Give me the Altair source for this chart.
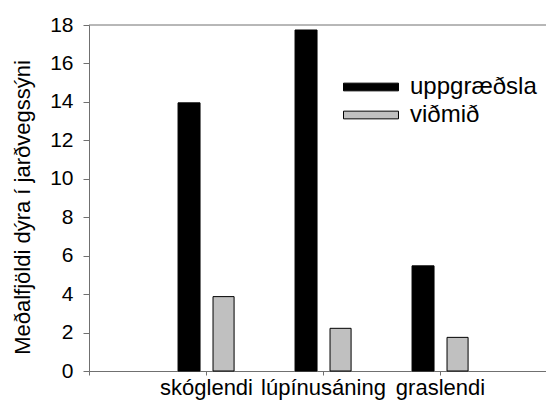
import json
import altair as alt
import pandas as pd

categories = ["skóglendi", "lúpínusáning", "graslendi"]
series_names = ["uppgræðsla", "viðmið"]
uppgraedsla = [13.95, 17.74, 5.47]
vidmid = [3.87, 2.22, 1.75]
y_ticks = list(range(0, 19, 2))

rows = []
for i, c in enumerate(categories):
    rows.append({"cat": c, "idx": i + 1, "series": series_names[0], "value": uppgraedsla[i]})
    rows.append({"cat": c, "idx": i + 1, "series": series_names[1], "value": vidmid[i]})
df = pd.DataFrame(rows)

W, H = 457, 346
step = 117.0
xmax = W / step
axis_col = "#707070"
label_arr = json.dumps([""] + categories, ensure_ascii=False)

x_scale = alt.Scale(domain=[0, xmax], nice=False, zero=False)
y_scale = alt.Scale(domain=[0, 18], nice=False)

x_axis = alt.Axis(values=[0, 1, 2, 3], labelExpr=f"{label_arr}[datum.value]",
                  title=None, grid=False, tickSize=4, labelPadding=2,
                  labelFontSize=22, domainColor=axis_col, tickColor=axis_col,
                  labelColor="black", labelFlush=False, labelOverlap=False)
y_axis = alt.Axis(values=y_ticks, title="Meðalfjöldi dýra í jarðvegssýni",
                  grid=False, tickSize=6, labelPadding=10, labelFontSize=21,
                  labelOverlap=False, labelFlush=False,
                  titleFontSize=22, titleFontWeight="normal", titlePadding=15,
                  titleY=182, domainColor=axis_col, tickColor=axis_col,
                  labelColor="black", titleColor="black")

base = alt.Chart(df).transform_calculate(
    lo=f"datum.idx + (datum.series == '{series_names[0]}' ? -0.239 : 0.06)"
).transform_calculate(
    hi="datum.lo + (datum.series == '" + series_names[0] + "' ? 0.188 : 0.18)"
)

bars = base.mark_bar(stroke="black", strokeWidth=1).encode(
    x=alt.X("lo:Q", scale=x_scale, axis=x_axis),
    x2="hi:Q",
    y=alt.Y("value:Q", scale=y_scale, axis=y_axis),
    y2=alt.datum(0),
    color=alt.Color("series:N",
                    scale=alt.Scale(domain=series_names, range=["#000000", "#c0c0c0"]),
                    legend=alt.Legend(title=None, orient="none", legendX=270, legendY=50,
                                      symbolType="M-3,-0.42H3V0.42H-3Z", symbolSize=336,
                                      symbolStrokeColor="black", symbolStrokeWidth=1,
                                      labelFontSize=24, labelOffset=27, rowPadding=4,
                                      labelColor="black")),
)

top_line = alt.Chart(pd.DataFrame({"t": [18]})).mark_rule(color=axis_col, strokeWidth=1).encode(
    x=alt.datum(0, scale=x_scale, axis=x_axis),
    x2=alt.datum(xmax),
    y=alt.datum(18, scale=y_scale, axis=y_axis),
)

chart = alt.layer(bars, top_line).properties(
    width=W, height=H,
    autosize=alt.AutoSizeParams(type="none"),
    padding={"left": 81, "top": 17, "right": 0, "bottom": 30},
).configure(font="Liberation Sans").configure_view(stroke=None)

chart.save("out.html", embed_options={"renderer": "svg", "actions": False})
